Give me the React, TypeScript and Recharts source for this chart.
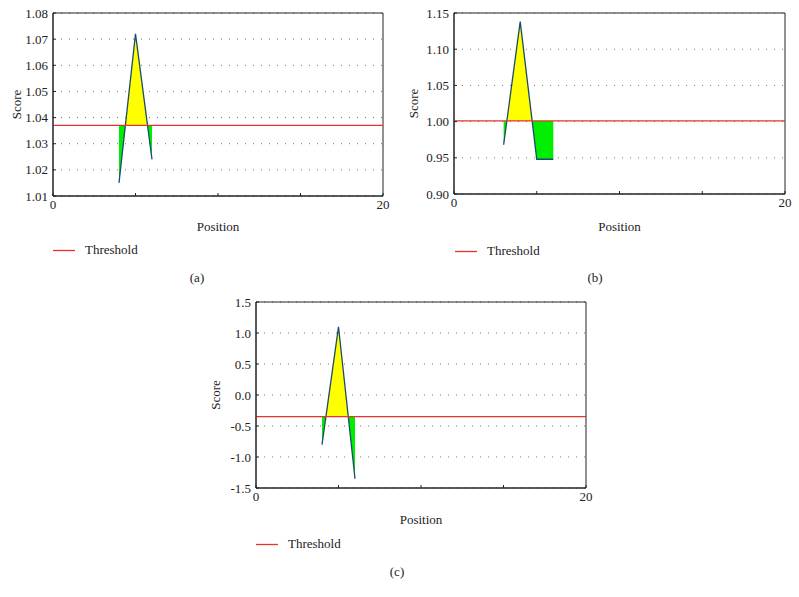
import React from 'react';
import { ComposedChart, Area, XAxis, YAxis, CartesianGrid, ReferenceLine, ReferenceArea, Label } from 'recharts';

// Panel (a)
const positionsA = [4, 5, 6];
const scoresA = [1.015, 1.072, 1.024];
const thresholdA = 1.037;
const yTicksA = [1.01, 1.02, 1.03, 1.04, 1.05, 1.06, 1.07, 1.08];

// Panel (b)
const positionsB = [3, 4, 5, 6];
const scoresB = [0.968, 1.138, 0.948, 0.948];
const thresholdB = 1.001;
const yTicksB = [0.9, 0.95, 1.0, 1.05, 1.1, 1.15];

// Panel (c)
const positionsC = [4, 5, 6];
const scoresC = [-0.8, 1.1, -1.35];
const thresholdC = -0.35;
const yTicksC = [-1.5, -1.0, -0.5, 0.0, 0.5, 1.0, 1.5];

const xTicks = [0, 5, 10, 15, 20];
const xLabels = ['0', '', '', '', '20'];

const FONT = "'Liberation Serif', 'Times New Roman', 'DejaVu Serif', serif";
const LINE = '#1b4c6a';
const RED = '#e5332f';

type PanelProps = {
  id: string;
  positions: number[];
  scores: number[];
  threshold: number;
  yTicks: number[];
  decimals: number;
  left: number;
  top: number;
  width: number;
  height: number;
  margin: { top: number; right: number; left: number; bottom: number };
  yWidth: number;
  xHeight: number;
  posOffset: number;
  scoreOffset: number;
};

function Panel(p: PanelProps) {
  const data = p.positions.map((x, i) => ({ x, y: p.scores[i] }));
  const hi = Math.max(p.threshold, ...p.scores);
  const lo = Math.min(p.threshold, ...p.scores);
  const off = (hi - p.threshold) / (hi - lo);
  const yMin = p.yTicks[0];
  const yMax = p.yTicks[p.yTicks.length - 1];
  return (
    <div style={{ position: 'absolute', left: p.left, top: p.top }}>
      <ComposedChart width={p.width} height={p.height} data={data} margin={p.margin}>
        <defs>
          <linearGradient id={'split' + p.id} x1="0" y1="0" x2="0" y2="1">
            <stop offset={off} stopColor="#ffff00" />
            <stop offset={off} stopColor="#00ee00" />
          </linearGradient>
        </defs>
        <CartesianGrid vertical={false} stroke="#777" strokeDasharray="1 7" />
        <XAxis
          dataKey="x"
          type="number"
          domain={[0, 20]}
          ticks={xTicks}
          tickFormatter={(v: number) => xLabels[xTicks.indexOf(v)] ?? ''}
          height={p.xHeight}
          tickSize={-3}
          tickMargin={7}
          stroke="#222"
          tick={{ fill: '#222', fontSize: 13, fontFamily: FONT }}
          allowDataOverflow
        >
          <Label value="Position" position="insideBottom" offset={p.posOffset} style={{ fill: '#222', fontSize: 13, fontFamily: FONT }} />
        </XAxis>
        <YAxis
          type="number"
          domain={[yMin, yMax]}
          ticks={p.yTicks}
          tickFormatter={(v: number) => v.toFixed(p.decimals)}
          width={p.yWidth}
          tickSize={-3}
          tickMargin={8}
          stroke="#222"
          tick={{ fill: '#222', fontSize: 13, fontFamily: FONT }}
          allowDataOverflow
        >
          <Label value="Score" angle={-90} position="insideLeft" offset={p.scoreOffset} style={{ textAnchor: 'middle', fill: '#222', fontSize: 13, fontFamily: FONT }} />
        </YAxis>
        <ReferenceArea x1={0} x2={20} y1={yMin} y2={yMax} fill="none" stroke="#222" strokeWidth={1} />
        <Area
          type="linear"
          dataKey="y"
          baseValue={p.threshold}
          fill={`url(#split${p.id})`}
          fillOpacity={1}
          stroke={LINE}
          strokeWidth={1.3}
          isAnimationActive={false}
          dot={false}
          activeDot={false}
        />
        <ReferenceLine y={p.threshold} stroke={RED} strokeWidth={1.2} />
      </ComposedChart>
    </div>
  );
}

function LegendItem({ left, top }: { left: number; top: number }) {
  return (
    <div style={{ position: 'absolute', left, top, height: 18, fontFamily: FONT, fontSize: 13, color: '#222', lineHeight: '18px', whiteSpace: 'nowrap' }}>
      <svg width={22} height={18} style={{ position: 'absolute', left: 0, top: 0 }}>
        <line x1={0} x2={22} y1={9.5} y2={9.5} stroke={RED} strokeWidth={1.3} />
      </svg>
      <span style={{ position: 'absolute', left: 32, top: 0 }}>Threshold</span>
    </div>
  );
}

function Caption({ text, cx, cy }: { text: string; cx: number; cy: number }) {
  return (
    <div style={{ position: 'absolute', left: cx - 20, top: cy - 9, width: 40, textAlign: 'center', fontFamily: FONT, fontSize: 13, color: '#222', lineHeight: '18px' }}>
      {text}
    </div>
  );
}

export default function App() {
  return (
    <div style={{ position: 'absolute', left: 0, top: 0, width: 799, height: 597, background: '#fff', overflow: 'hidden', fontFamily: FONT }}>
      <Panel
        id="a"
        positions={positionsA}
        scores={scoresA}
        threshold={thresholdA}
        yTicks={yTicksA}
        decimals={2}
        left={0}
        top={0}
        width={400}
        height={240}
        margin={{ top: 13, right: 17, left: 0, bottom: 0 }}
        yWidth={53}
        xHeight={44}
        posOffset={9}
        scoreOffset={16}
      />
      <Panel
        id="b"
        positions={positionsB}
        scores={scoresB}
        threshold={thresholdB}
        yTicks={yTicksB}
        decimals={2}
        left={400}
        top={0}
        width={399}
        height={240}
        margin={{ top: 13, right: 14, left: 0, bottom: 0 }}
        yWidth={54}
        xHeight={46}
        posOffset={9}
        scoreOffset={13}
      />
      <Panel
        id="c"
        positions={positionsC}
        scores={scoresC}
        threshold={thresholdC}
        yTicks={yTicksC}
        decimals={1}
        left={200}
        top={290}
        width={400}
        height={240}
        margin={{ top: 12, right: 14, left: 0, bottom: 0 }}
        yWidth={56}
        xHeight={42}
        posOffset={6}
        scoreOffset={15}
      />
      <LegendItem left={53} top={241} />
      <LegendItem left={455} top={242} />
      <LegendItem left={256} top={535} />
      <Caption text="(a)" cx={197} cy={278} />
      <Caption text="(b)" cx={595} cy={278} />
      <Caption text="(c)" cx={397} cy={572} />
    </div>
  );
}
